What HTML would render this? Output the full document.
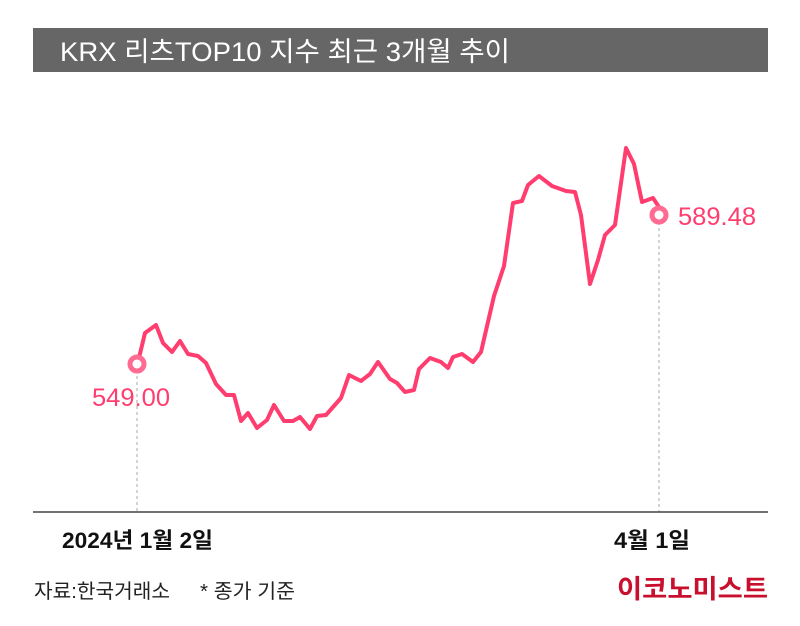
<!DOCTYPE html>
<html><head><meta charset="utf-8"><style>
body{margin:0;background:#fff;}
svg{display:block;}
text{font-family:"Liberation Sans","Noto Sans CJK KR",sans-serif;}
</style></head><body>
<svg width="800" height="626" viewBox="0 0 800 626">
<rect x="0" y="0" width="800" height="626" fill="#fff"/>
<rect x="33" y="28" width="735" height="44" fill="#666"/>
<text x="60" y="61" font-size="27" fill="#fff" textLength="450" lengthAdjust="spacingAndGlyphs">KRX 리츠TOP10 지수 최근 3개월 추이</text>
<line x1="137" y1="370" x2="137" y2="512" stroke="#aaa" stroke-dasharray="3,3" stroke-width="1"/>
<line x1="659" y1="222" x2="659" y2="512" stroke="#aaa" stroke-dasharray="3,3" stroke-width="1"/>
<line x1="33" y1="512" x2="768" y2="512" stroke="#444" stroke-width="1.5"/>
<polyline fill="none" stroke="#ff3d6e" stroke-width="4" stroke-linejoin="round" stroke-linecap="round" points="138,362 145,333 156,325 163,343 172,352 180,341 188,354 198,356 206,363 216,384 226,395 234,395 241,421 248,413 257,428 267,420 274,405 284,421 293,421 300,417 310,429 317,416 326,415 341,398 349,375 361,381 370,374 378,362 390,379 397,383 405,392 414,390 419,369 430,358 441,362 448,368 453,357 462,354 473,362 481,352 494,296 504,266 513,203 522,201 528,185 539,176 552,186 566,191 575,192 581,215 590,284 598,260 605,235 615,225 626,148 634,164 642,202 653,198 659,207"/>
<circle cx="137" cy="364" r="7" fill="#fff" stroke="#ff6b92" stroke-width="5"/>
<circle cx="659" cy="215" r="7" fill="#fff" stroke="#ff6b92" stroke-width="5"/>
<text x="92" y="406" font-size="25" fill="#ff3d6e" textLength="78" lengthAdjust="spacingAndGlyphs">549.00</text>
<text x="678" y="225" font-size="25" fill="#ff3d6e" textLength="78" lengthAdjust="spacingAndGlyphs">589.48</text>
<text x="62" y="548" font-size="22" font-weight="bold" fill="#111" textLength="151" lengthAdjust="spacingAndGlyphs">2024년 1월 2일</text>
<text x="614" y="548" font-size="22" font-weight="bold" fill="#111" textLength="76" lengthAdjust="spacingAndGlyphs">4월 1일</text>
<text x="34" y="598" font-size="20" fill="#222" textLength="136" lengthAdjust="spacingAndGlyphs">자료:한국거래소</text>
<text x="200" y="598" font-size="20" fill="#222" textLength="95" lengthAdjust="spacingAndGlyphs">* 종가 기준</text>
<text x="617" y="598" font-size="26" font-weight="bold" fill="#c8102e" textLength="151" lengthAdjust="spacingAndGlyphs">이코노미스트</text>
</svg>
</body></html>
